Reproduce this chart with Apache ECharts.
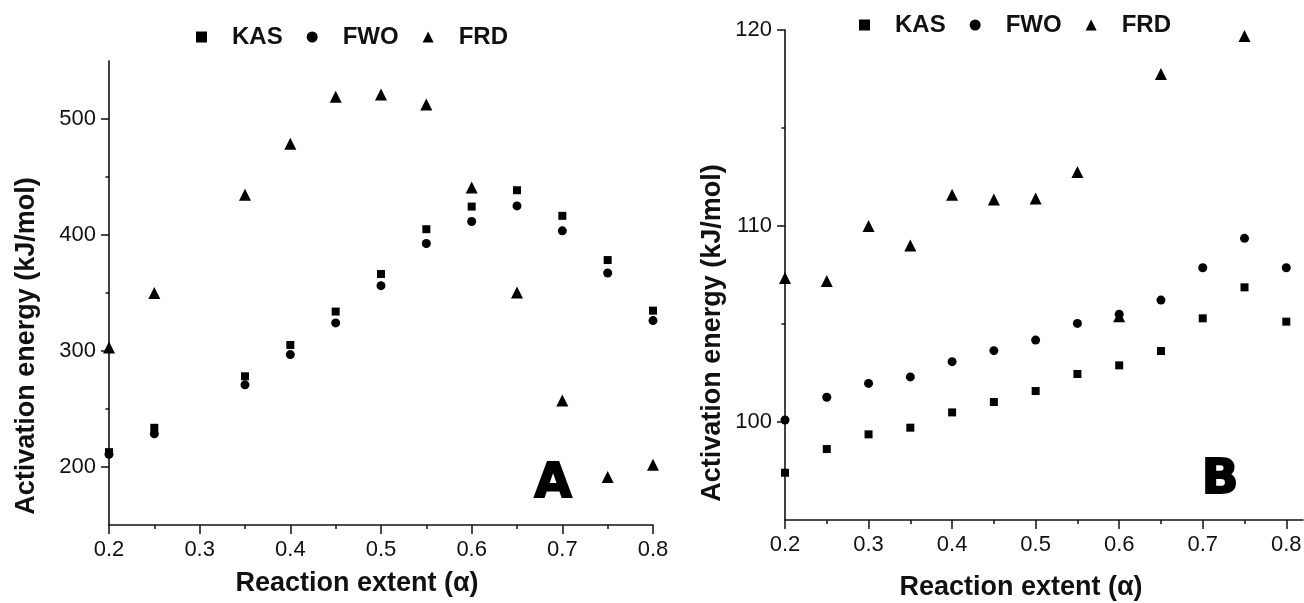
<!DOCTYPE html>
<html>
<head>
<meta charset="utf-8">
<script src="https://cdn.jsdelivr.net/npm/echarts@6/dist/echarts.min.js"></script>
<style>
html,body{margin:0;padding:0;background:#fff;}
#chart{width:1304px;height:603px;}
</style>
</head>
<body>
<div id="chart"></div>
<script>
// ---- Data ----
const seriesNames = ['KAS', 'FWO', 'FRD'];

// Panel A
const alphaA = [0.2, 0.25, 0.35, 0.4, 0.45, 0.5, 0.55, 0.6, 0.65, 0.7, 0.75, 0.8];
const kasA = [212.8, 233.8, 278.2, 305.2, 334.0, 366.4, 405.0, 424.5, 438.6, 416.5, 378.4, 334.8];
const fwoA = [210.9, 228.6, 270.8, 296.9, 324.2, 356.3, 392.7, 411.6, 425.1, 403.6, 367.2, 326.2];
const frdA = [303.0, 350.0, 434.6, 478.7, 519.2, 521.2, 512.6, 440.9, 350.5, 257.3, 191.3, 201.9];

// Panel B
const alphaB = [0.2, 0.25, 0.3, 0.35, 0.4, 0.45, 0.5, 0.55, 0.6, 0.65, 0.7, 0.75, 0.8];
const kasB = [97.41, 98.62, 99.37, 99.71, 100.49, 101.02, 101.58, 102.45, 102.89, 103.62, 105.29, 106.87, 105.12];
const fwoB = [100.1, 101.26, 101.97, 102.3, 103.08, 103.64, 104.18, 105.03, 105.5, 106.22, 107.87, 109.37, 107.87];
const frdB = [107.35, 107.2, 110.0, 109.0, 111.6, 111.35, 111.4, 112.75, 105.4, 117.75, null, 119.7, null];

// Tick labels
const xTicks = [0.2, 0.3, 0.4, 0.5, 0.6, 0.7, 0.8];
const xMinorTicks = [0.25, 0.35, 0.45, 0.55, 0.65, 0.75];
const yTicksA = [200, 300, 400, 500];
const yMinorA = [250, 350, 450];
const yTicksB = [100, 110, 120];
const yMinorB = [105, 115];

// Text
const xTitle = 'Reaction extent (\u03b1)';
const yTitle = 'Activation energy (kJ/mol)';
const panelLetters = ['A', 'B'];

// ---- Styling ----
const FONT = '"Liberation Sans", Arial, sans-serif';
const INK = '#111';
const symbols = ['rect', 'circle', 'triangle'];
const sizes = [8, 9, 12];

function pairs(xs, ys) { return xs.map((x, i) => [x, ys[i]]); }

function mainX(grid, min, max) {
  return {
    type: 'value', gridIndex: grid, min: min, max: max, position: 'bottom',
    axisLine: { show: true, onZero: false, lineStyle: { color: INK, width: 1.6 } },
    axisTick: { show: true, inside: false, length: 9, customValues: xTicks, lineStyle: { color: INK, width: 1.5 } },
    axisLabel: { show: true, customValues: xTicks, margin: 14, color: INK, fontSize: 22, fontFamily: FONT,
      formatter: v => Number(v).toFixed(1) },
    splitLine: { show: false }
  };
}
function minorX(grid, min, max) {
  return {
    type: 'value', gridIndex: grid, min: min, max: max, position: 'bottom',
    axisLine: { show: false },
    axisTick: { show: true, length: 4, customValues: xMinorTicks, lineStyle: { color: INK, width: 1.5 } },
    axisLabel: { show: false }, splitLine: { show: false }
  };
}
function mainY(grid, min, max, ticks) {
  return {
    type: 'value', gridIndex: grid, min: min, max: max, position: 'left',
    axisLine: { show: true, onZero: false, lineStyle: { color: INK, width: 1.6 } },
    axisTick: { show: true, length: 8, customValues: ticks, lineStyle: { color: INK, width: 1.5 } },
    axisLabel: { show: true, customValues: ticks, margin: 13, color: INK, fontSize: 22, fontFamily: FONT },
    splitLine: { show: false }
  };
}
function minorY(grid, min, max, ticks) {
  return {
    type: 'value', gridIndex: grid, min: min, max: max, position: 'left',
    axisLine: { show: false },
    axisTick: { show: true, length: 3.5, customValues: ticks, lineStyle: { color: INK, width: 1.5 } },
    axisLabel: { show: false }, splitLine: { show: false }
  };
}

function scatter(name, i, data, xi, yi) {
  return {
    type: 'scatter', name: name, xAxisIndex: xi, yAxisIndex: yi,
    data: data, symbol: symbols[i], symbolSize: sizes[i], clip: true,
    itemStyle: { color: '#000', opacity: 1 }, emphasis: { disabled: true }
  };
}

function legend(left, top) {
  return {
    data: seriesNames, left: left, top: top, orient: 'horizontal',
    itemWidth: 11, itemHeight: 11, itemGap: 24, selectedMode: false,
    textStyle: { fontSize: 24, fontWeight: 'bold', fontFamily: FONT, color: INK, padding: [0, 0, 0, 20] }
  };
}

const chart = echarts.init(document.getElementById('chart'), null, { renderer: 'canvas' });

const option = {
  animation: false,
  backgroundColor: '#fff',
  legend: [legend(191, 20), legend(854, 8)],
  grid: [
    { left: 109, right: 651, top: 61, bottom: 78, containLabel: false, outerBoundsMode: 'none' },
    { left: 785, right: 1, top: 30, bottom: 83, containLabel: false, outerBoundsMode: 'none' }
  ],
  xAxis: [mainX(0, 0.2, 0.8), minorX(0, 0.2, 0.8), mainX(1, 0.2, 0.82), minorX(1, 0.2, 0.82)],
  yAxis: [mainY(0, 150, 550, yTicksA), minorY(0, 150, 550, yMinorA), mainY(1, 95, 120, yTicksB), minorY(1, 95, 120, yMinorB)],
  series: [
    scatter('KAS', 0, pairs(alphaA, kasA), 0, 0),
    scatter('FWO', 1, pairs(alphaA, fwoA), 0, 0),
    scatter('FRD', 2, pairs(alphaA, frdA), 0, 0),
    scatter('KAS', 0, pairs(alphaB, kasB), 2, 2),
    scatter('FWO', 1, pairs(alphaB, fwoB), 2, 2),
    scatter('FRD', 2, pairs(alphaB, frdB), 2, 2)
  ],
  graphic: [
    { type: 'text', x: 27, y: 346, rotation: Math.PI / 2, silent: true,
      style: { text: yTitle, fontSize: 27, fontWeight: 'bold', fontFamily: FONT, fill: INK, align: 'center', verticalAlign: 'middle' } },
    { type: 'text', x: 713, y: 333, rotation: Math.PI / 2, silent: true,
      style: { text: yTitle, fontSize: 27, fontWeight: 'bold', fontFamily: FONT, fill: INK, align: 'center', verticalAlign: 'middle' } },
    { type: 'text', x: 357, y: 584, silent: true,
      style: { text: xTitle, fontSize: 27, fontWeight: 'bold', fontFamily: FONT, fill: INK, align: 'center', verticalAlign: 'middle' } },
    { type: 'text', x: 1021, y: 588, silent: true,
      style: { text: xTitle, fontSize: 27, fontWeight: 'bold', fontFamily: FONT, fill: INK, align: 'center', verticalAlign: 'middle' } },
    { type: 'text', x: 553, y: 485, silent: true,
      style: { text: panelLetters[0], fontSize: 48, fontWeight: 'bold', fontFamily: '"DejaVu Sans", sans-serif', fill: '#000',
        stroke: '#000', lineWidth: 2, align: 'center', verticalAlign: 'middle' } },
    { type: 'text', x: 1220, y: 481, silent: true,
      style: { text: panelLetters[1], fontSize: 48, fontWeight: 'bold', fontFamily: '"DejaVu Sans", sans-serif', fill: '#000',
        stroke: '#000', lineWidth: 2, align: 'center', verticalAlign: 'middle' } }
  ]
};
chart.setOption(option);
</script>
</body>
</html>
